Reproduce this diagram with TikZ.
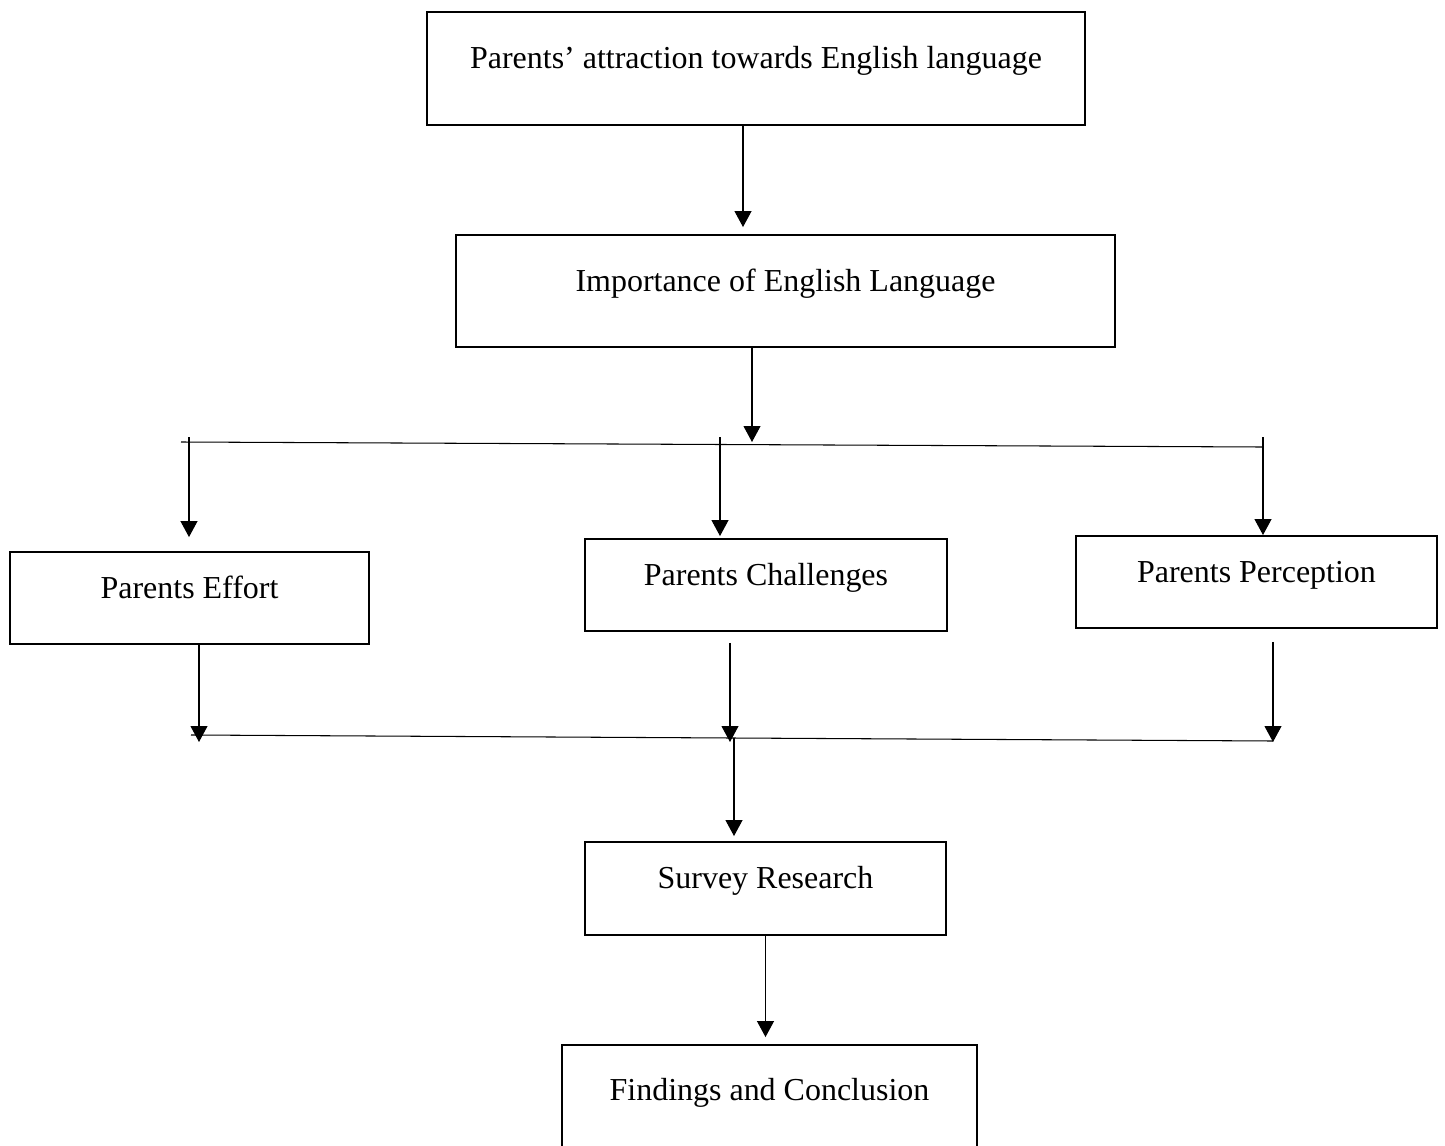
\documentclass[tikz,border=0pt]{standalone}
\usepackage{fontspec}
\setmainfont{Liberation Serif}
\usetikzlibrary{calc,arrows.meta}
\tikzset{>={Triangle[length=0.32cm,width=0.34cm]}}
\tikzset{box/.style={draw,line width=1.1pt,inner sep=0pt,text height=0.5em,text depth=0.5em,font=\fontsize{18.2}{22}\selectfont},
  link/.style={line width=0.6pt},
  arr/.style={link,->}}

\begin{document}
\begin{tikzpicture}[x=0.02cm,y=-0.02cm]
\useasboundingbox (0,0) rectangle (1445,1146);
\node[box,minimum width=13.16cm,minimum height=2.26cm] (attr) at (756,68.5) {Parents’ attraction towards English language};
\node[box,minimum width=13.18cm,minimum height=2.24cm] (importance) at (785.5,291) {Importance of English Language};
\node[box,minimum width=7.18cm,minimum height=1.84cm] (effort) at (189.5,598) {Parents Effort};
\node[box,minimum width=7.24cm,minimum height=1.84cm] (challenges) at (766,585) {Parents Challenges};
\node[box,minimum width=7.22cm,minimum height=1.84cm] (perception) at (1256.5,582) {Parents Perception};
\node[box,minimum width=7.22cm,minimum height=1.86cm] (survey) at (765.5,888.5) {Survey Research};
\node[box,minimum width=8.3cm,minimum height=2.2cm] (findings) at (769.5,1100) {Findings and Conclusion};
% split and join lines
\coordinate (splitL) at (181,442);
\coordinate (splitR) at (1262,447);
\coordinate (joinL) at (191,735);
\coordinate (joinR) at (1273,741);
\draw[link] (splitL) -- (splitR);
\draw[link] (joinL) -- (joinR);
\coordinate (effortIn) at (189,437);
\coordinate (challIn) at (720,437);
\coordinate (percIn) at (1263,437);
\coordinate (effortOut) at (199,742);
\coordinate (challOut) at (730,742);
\coordinate (percOut) at (1273,742);
\coordinate (surveyIn) at (734,738);
\draw[arr,shorten >=0.14cm] ([xshift=-0.26cm]attr.south) -- ([xshift=-0.26cm]attr.south |- importance.north);
\draw[arr] ([xshift=-0.67cm]importance.south) -- ([xshift=-0.67cm]importance.south |- splitL);
\draw[arr,shorten >=0.28cm] (effortIn) -- (effortIn |- effort.north);
\draw[arr,shorten >=0.04cm] (challIn) -- (challIn |- challenges.north);
\draw[arr] (percIn) -- (percIn |- perception.north);
\draw[arr] (effort.south -| effortOut) -- (effortOut);
\draw[arr,shorten <=0.22cm] (challenges.south -| challOut) -- (challOut);
\draw[arr,shorten <=0.26cm] (perception.south -| percOut) -- (percOut);
\draw[arr,shorten >=0.1cm] (surveyIn) -- (surveyIn |- survey.north);
\draw[arr,shorten >=0.14cm] (survey.south) -- (survey.south |- findings.north);
\end{tikzpicture}
\end{document}
